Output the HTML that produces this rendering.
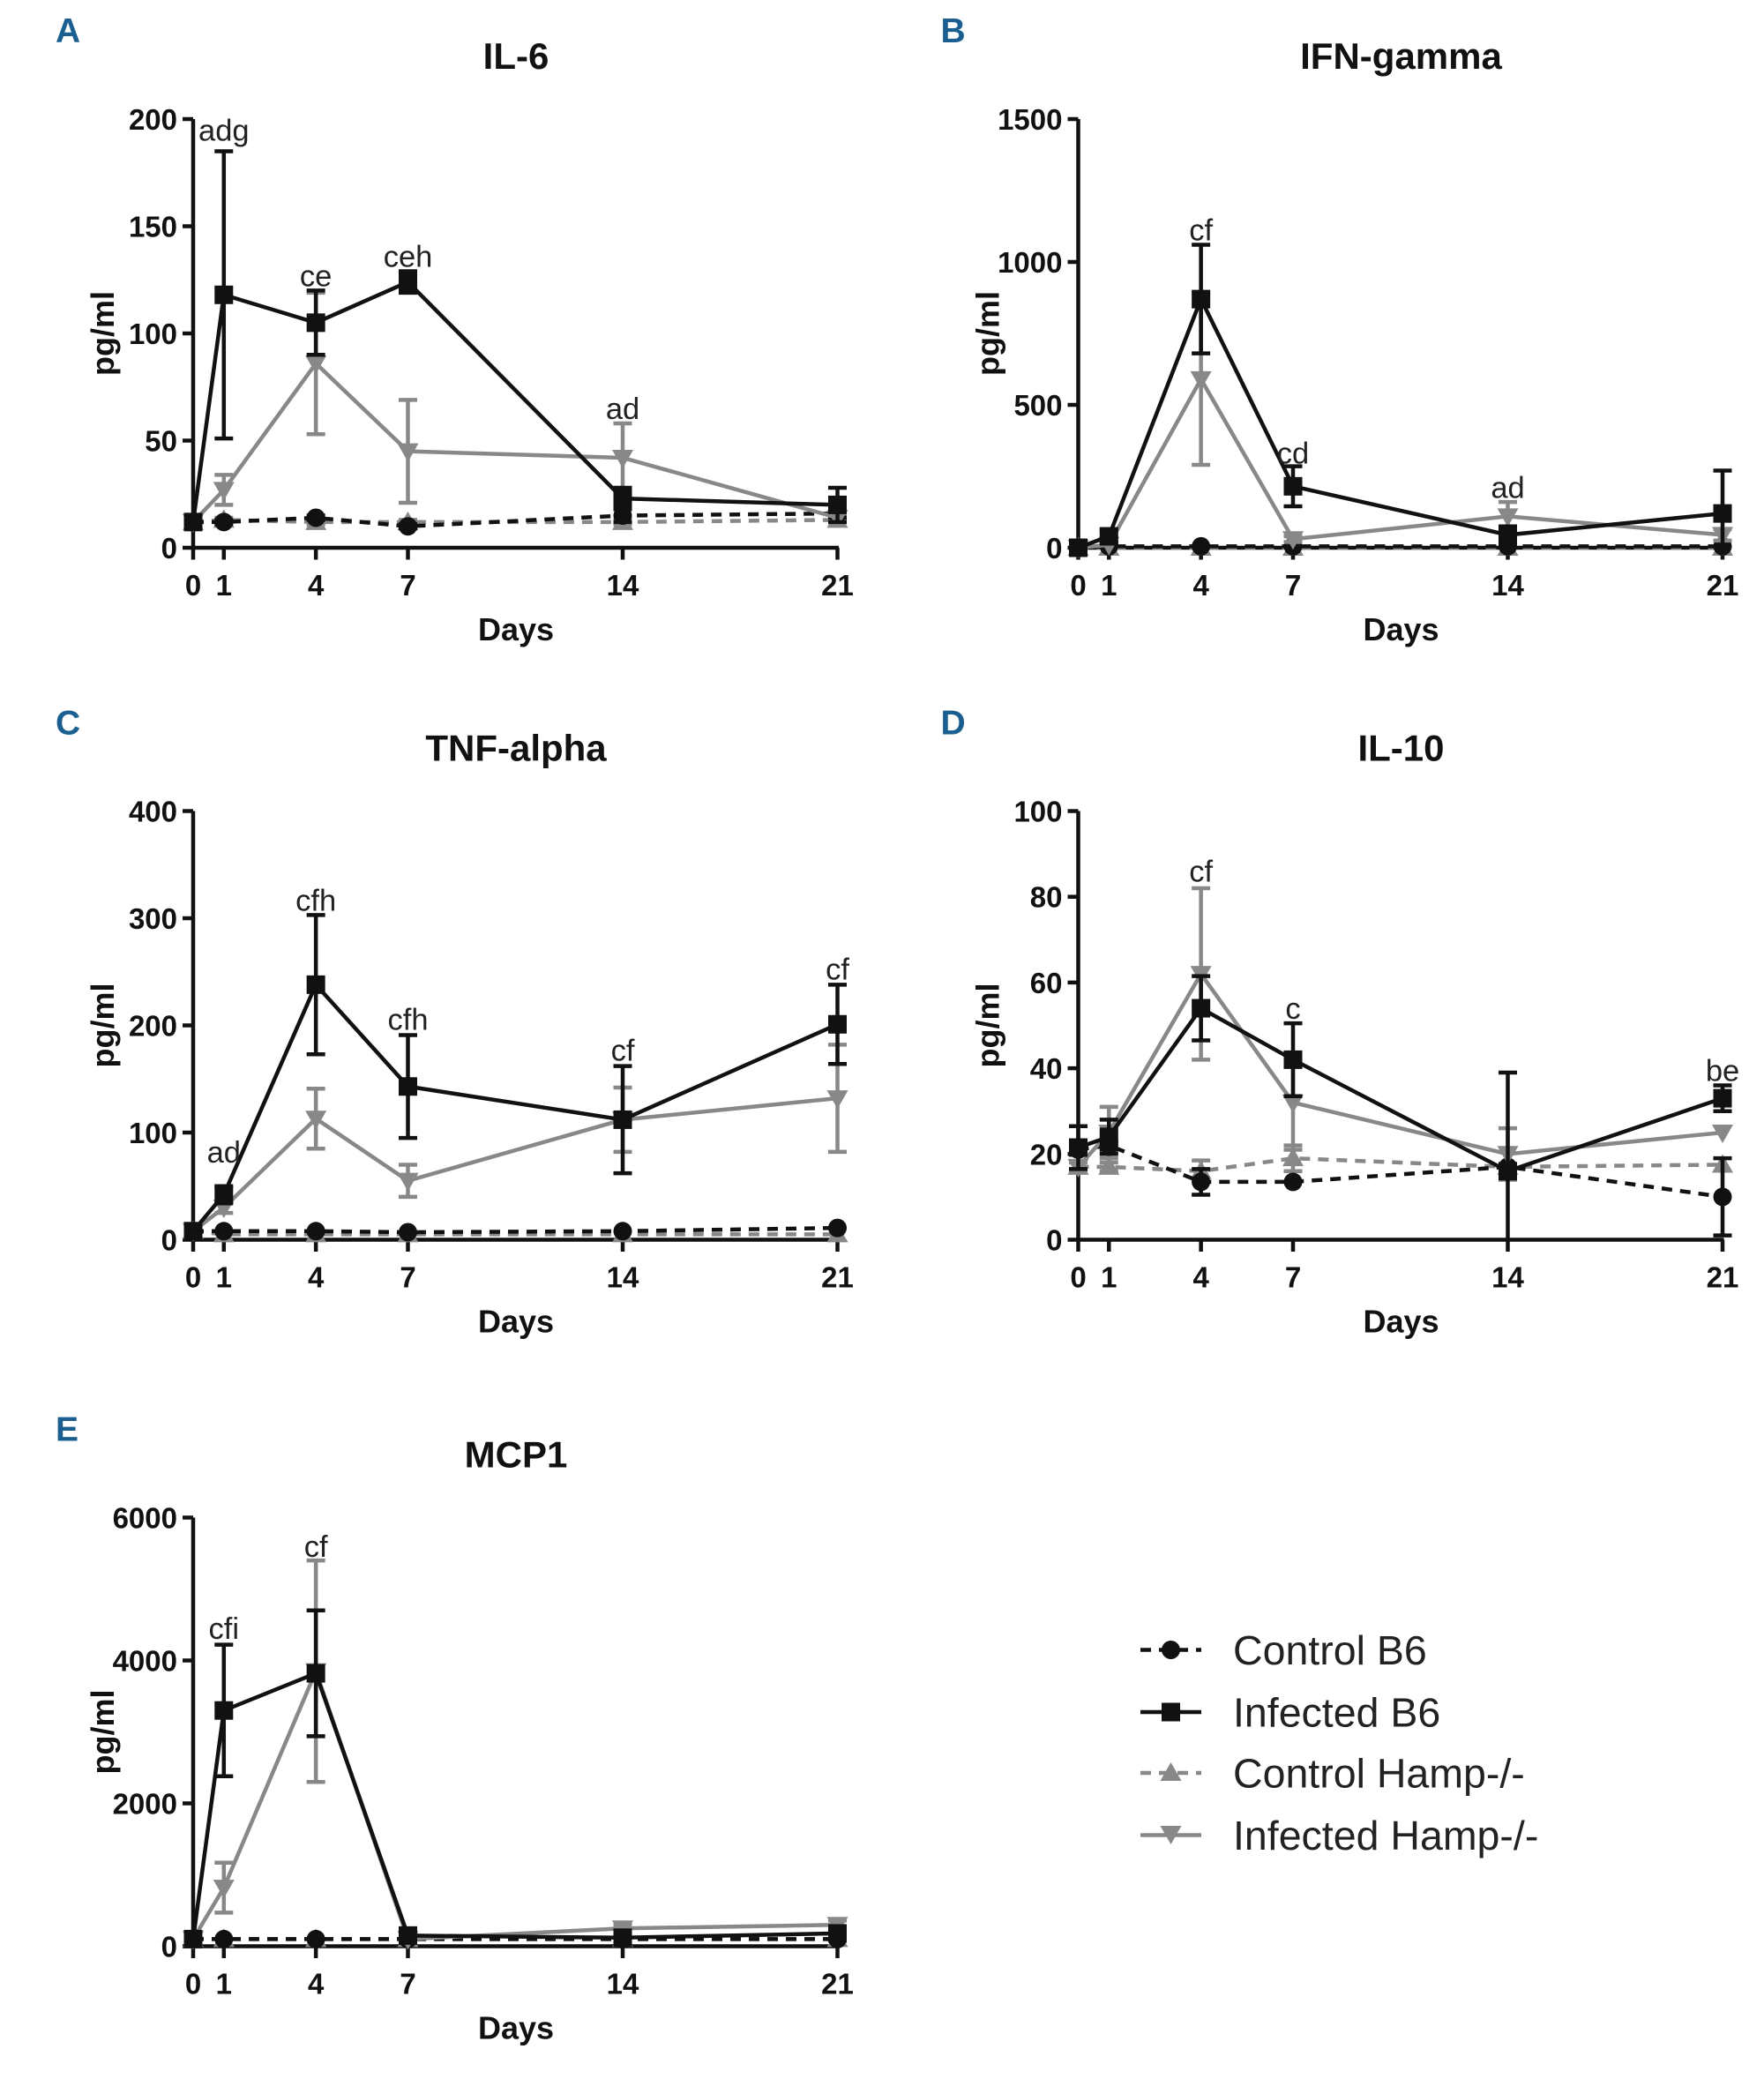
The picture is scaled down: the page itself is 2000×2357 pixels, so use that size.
<!DOCTYPE html>
<html><head><meta charset="utf-8"><style>
html,body{margin:0;padding:0;background:#fff}
svg{display:block}
text{font-family:"Liberation Sans",sans-serif}
</style></head><body>
<svg id="fig" xmlns="http://www.w3.org/2000/svg" width="2000" height="2357" viewBox="0 0 1333.33 1571.33">
<g id="legend">
 <g><line x1="862" y1="1247" x2="908" y2="1247" stroke="#111" stroke-width="3" stroke-dasharray="8,6"/><circle cx="885" cy="1247" r="7" fill="#111"/><text x="932" y="1258" font-size="31" fill="#222">Control B6</text></g>
 <g><line x1="862" y1="1294" x2="908" y2="1294" stroke="#111" stroke-width="3"/><rect x="878" y="1287" width="14" height="14" fill="#111"/><text x="932" y="1305" font-size="31" fill="#222">Infected B6</text></g>
 <g><line x1="862" y1="1340" x2="908" y2="1340" stroke="#888" stroke-width="3" stroke-dasharray="8,6"/><polygon points="885,1332 893,1346 877,1346" fill="#888"/><text x="932" y="1351" font-size="31" fill="#222">Control Hamp-/-</text></g>
 <g><line x1="862" y1="1387" x2="908" y2="1387" stroke="#888" stroke-width="3"/><polygon points="877,1380 893,1380 885,1394" fill="#888"/><text x="932" y="1398" font-size="31" fill="#222">Infected Hamp-/-</text></g>
</g>
</svg>
<script>
const days=[0,1,4,7,14,21];
// A IL-6
const il6_cb6=[12,12,14,10,15,16], il6_cb6_err=[0,1,1,1,3,2];
const il6_ib6=[12,118,105,124,23,20], il6_ib6_err=[0,67,15,5,5,8];
const il6_ch=[12,13,12,12,12,13], il6_ch_err=[0,1,1,1,1,1];
const il6_ih=[12,27,86,45,42,14], il6_ih_err=[0,7,33,24,16,2];
const il6_ticks=[0,50,100,150,200];
const il6_ann=[["adg",1,190],["ce",4,122],["ceh",7,131],["ad",14,60]];
// B IFN-gamma
const ifn_cb6=[0,5,5,5,5,5], ifn_cb6_err=[0,0,0,0,0,0];
const ifn_ib6=[0,40,870,215,45,120], ifn_ib6_err=[0,20,190,70,30,150];
const ifn_ch=[0,0,0,0,0,0], ifn_ch_err=[0,0,0,0,0,0];
const ifn_ih=[0,10,590,30,110,45], ifn_ih_err=[0,10,300,10,50,20];
const ifn_ticks=[0,500,1000,1500];
const ifn_ann=[["cf",4,1075],["cd",7,295],["ad",14,175]];
// C TNF-alpha
const tnf_cb6=[8,8,8,7,8,11], tnf_cb6_err=[0,0,0,0,0,0];
const tnf_ib6=[8,42,238,143,112,201], tnf_ib6_err=[0,8,65,48,50,37];
const tnf_ch=[8,5,5,5,5,5], tnf_ch_err=[0,0,0,0,0,0];
const tnf_ih=[8,30,113,55,112,132], tnf_ih_err=[0,5,28,15,30,50];
const tnf_ticks=[0,100,200,300,400];
const tnf_ann=[["ad",1,72],["cfh",4,307],["cfh",7,196],["cf",14,167],["cf",21,243]];
// D IL-10
const il10_cb6=[21,22,13.5,13.5,17,10], il10_cb6_err=[0,1,3,0,0,9];
const il10_ib6=[21.5,24,54,42,16,33], il10_ib6_err=[5,4,7.5,8.5,23,3];
const il10_ch=[17,17,16,19,17,17.5], il10_ch_err=[1,1,2.5,3,0,0];
const il10_ih=[17,25,62,32,20,25], il10_ih_err=[0,6,20,11,6,0];
const il10_ticks=[0,20,40,60,80,100];
const il10_ann=[["cf",4,83.5],["c",7,51.5],["be",21,37]];
// E MCP1
const mcp_cb6=[100,100,100,100,100,100], mcp_cb6_err=[0,0,0,0,0,0];
const mcp_ib6=[100,3300,3820,150,120,180], mcp_ib6_err=[0,920,880,0,0,0];
const mcp_ch=[100,100,100,100,100,100], mcp_ch_err=[0,0,0,0,0,0];
const mcp_ih=[100,820,3850,100,250,300], mcp_ih_err=[0,350,1550,0,50,60];
const mcp_ticks=[0,2000,4000,6000];
const mcp_ann=[["cfi",1,4300],["cf",4,5450]];

const NS="http://www.w3.org/2000/svg";
const svg=document.getElementById('fig');
function mk(tag,attrs,parent){const e=document.createElementNS(NS,tag);for(const k in attrs)e.setAttribute(k,attrs[k]);parent.appendChild(e);return e;}

function panel(cfg){
  const g=mk('g',{},svg);
  
  
  const x0=cfg.x0,x1=cfg.x0+487,y0=cfg.y0,y1=cfg.y0-324,max=cfg.ticks[cfg.ticks.length-1];
  const X=d=>x0+(x1-x0)*d/21, Y=v=>y0-(y0-y1)*Math.max(0,v)/max;
  const L=mk('text',{x:cfg.x0-104,y:cfg.y0-382,'font-size':26,'font-weight':'bold',fill:'#1a5f8f'},g);L.textContent=cfg.letter;
  
  const T=mk('text',{x:x0+244,y:y0-362,'font-size':28,'font-weight':'bold','text-anchor':'middle',fill:'#111'},g);T.textContent=cfg.title;
  
  mk('line',{x1:x0,y1:y0,x2:x0,y2:y1,stroke:'#111','stroke-width':3},g);
  mk('line',{x1:x0,y1:y0,x2:x1+1,y2:y0,stroke:'#111','stroke-width':3},g);
  cfg.ticks.forEach(t=>{mk('line',{x1:x0-8,y1:Y(t),x2:x0,y2:Y(t),stroke:'#111','stroke-width':3},g);
    const tt=mk('text',{x:x0-12,y:Y(t)+8,'font-size':22,'font-weight':'bold','text-anchor':'end',fill:'#111'},g);tt.textContent=t;
    });
  days.forEach(d=>{mk('line',{x1:X(d),y1:y0,x2:X(d),y2:y0+9,stroke:'#111','stroke-width':3},g);
    const tt=mk('text',{x:X(d),y:y0+36,'font-size':22,'font-weight':'bold','text-anchor':'middle',fill:'#111'},g);tt.textContent=d;
    });
  const dx=mk('text',{x:x0+244,y:y0+70,'font-size':24,'font-weight':'bold','text-anchor':'middle',fill:'#111'},g);dx.textContent='Days';
  
  const yt=mk('text',{x:0,y:0,'font-size':24,'font-weight':'bold','text-anchor':'middle',fill:'#111',transform:`translate(${x0-60},${y0-162}) rotate(-90)`},g);yt.textContent='pg/ml';
  
  const series=[
    {n:'control-hamp',v:cfg.ch,e:cfg.che,c:'#888',dash:'8,6',m:'up'},
    {n:'control-b6',v:cfg.cb6,e:cfg.cb6e,c:'#111',dash:'8,6',m:'circle'},
    {n:'infected-hamp',v:cfg.ih,e:cfg.ihe,c:'#888',dash:'',m:'down'},
    {n:'infected-b6',v:cfg.ib6,e:cfg.ib6e,c:'#111',dash:'',m:'square'}];
  series.forEach(s=>{
    const sg=mk('g',{},g);
    
    
    s.v.forEach((v,i)=>{if(s.e[i]>0){const x=X(days[i]);
      mk('line',{x1:x,y1:Y(v-s.e[i]),x2:x,y2:Y(v+s.e[i]),stroke:s.c,'stroke-width':3},sg);
      [v-s.e[i],v+s.e[i]].forEach(w=>{if(w>0)mk('line',{x1:x-7,y1:Y(w),x2:x+7,y2:Y(w),stroke:s.c,'stroke-width':3},sg);});}});
    const pts=s.v.map((v,i)=>X(days[i])+','+Y(v)).join(' ');
    const pl=mk('polyline',{points:pts,fill:'none',stroke:s.c,'stroke-width':3,'stroke-dasharray':s.dash||'none'},sg);
    
    s.v.forEach((v,i)=>{const x=X(days[i]),y=Y(v);let el;
      if(s.m==='circle')el=mk('circle',{cx:x,cy:y,r:7,fill:s.c},sg);
      else if(s.m==='square')el=mk('rect',{x:x-7,y:y-7,width:14,height:14,fill:s.c},sg);
      else if(s.m==='up')el=mk('polygon',{points:`${x},${y-8} ${x+8},${y+6} ${x-8},${y+6}`,fill:s.c},sg);
      else el=mk('polygon',{points:`${x-8},${y-6} ${x+8},${y-6} ${x},${y+8}`,fill:s.c},sg);
      
      });
  });
  cfg.ann.forEach(a=>{const t=mk('text',{x:X(a[1]),y:Y(a[2]),'font-size':23,'text-anchor':'middle',fill:'#222'},g);t.textContent=a[0];
    });
}
panel({name:'il6',letter:'A',title:'IL-6',x0:146,y0:414,ticks:il6_ticks,cb6:il6_cb6,cb6e:il6_cb6_err,ib6:il6_ib6,ib6e:il6_ib6_err,ch:il6_ch,che:il6_ch_err,ih:il6_ih,ihe:il6_ih_err,ann:il6_ann});
panel({name:'ifn-gamma',letter:'B',title:'IFN-gamma',x0:815,y0:414,ticks:ifn_ticks,cb6:ifn_cb6,cb6e:ifn_cb6_err,ib6:ifn_ib6,ib6e:ifn_ib6_err,ch:ifn_ch,che:ifn_ch_err,ih:ifn_ih,ihe:ifn_ih_err,ann:ifn_ann});
panel({name:'tnf-alpha',letter:'C',title:'TNF-alpha',x0:146,y0:937,ticks:tnf_ticks,cb6:tnf_cb6,cb6e:tnf_cb6_err,ib6:tnf_ib6,ib6e:tnf_ib6_err,ch:tnf_ch,che:tnf_ch_err,ih:tnf_ih,ihe:tnf_ih_err,ann:tnf_ann});
panel({name:'il10',letter:'D',title:'IL-10',x0:815,y0:937,ticks:il10_ticks,cb6:il10_cb6,cb6e:il10_cb6_err,ib6:il10_ib6,ib6e:il10_ib6_err,ch:il10_ch,che:il10_ch_err,ih:il10_ih,ihe:il10_ih_err,ann:il10_ann});
panel({name:'mcp1',letter:'E',title:'MCP1',x0:146,y0:1471,ticks:mcp_ticks,cb6:mcp_cb6,cb6e:mcp_cb6_err,ib6:mcp_ib6,ib6e:mcp_ib6_err,ch:mcp_ch,che:mcp_ch_err,ih:mcp_ih,ihe:mcp_ih_err,ann:mcp_ann});
</script>
</body></html>
